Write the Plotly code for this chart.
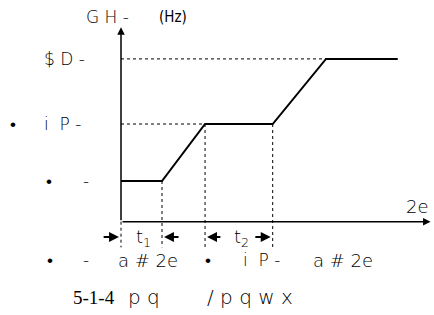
import plotly.graph_objects as go

# ---- data ----
times = [0, 1.0, 2.05, 3.7, 5.0, 6.75]          # breakpoints of the speed curve
freqs = [10, 10, 24, 24, 40, 40]                # frequency levels (Hz)
level_high = 40
level_mid = 24
t1_span = [0.0, 1.0]
t2_span = [2.05, 3.7]

W, H = 434, 315
X0, KX = 121, 41.0        # pixel of t=0, px per unit
Y0, KY = 221.7, 4.07      # pixel of f=0, px per unit

fig = go.Figure()

blk = "black"
dash = "3px,3px"

# main curve
fig.add_trace(go.Scatter(x=times, y=freqs, mode="lines",
                         line=dict(color=blk, width=2), hoverinfo="skip"))

# dashed guides
shapes = []
shapes.append(dict(type="line", x0=0, x1=times[4], y0=level_high, y1=level_high,
                   line=dict(color=blk, width=1, dash=dash)))
shapes.append(dict(type="line", x0=0, x1=times[2], y0=level_mid, y1=level_mid,
                   line=dict(color=blk, width=1, dash=dash)))
ybot = -6.3
shapes.append(dict(type="line", x0=0, x1=0, y0=0, y1=ybot, line=dict(color=blk, width=1, dash=dash)))
shapes.append(dict(type="line", x0=times[1], x1=times[1], y0=freqs[1], y1=ybot, line=dict(color=blk, width=1, dash=dash)))
shapes.append(dict(type="line", x0=times[2], x1=times[2], y0=freqs[2], y1=ybot, line=dict(color=blk, width=1, dash=dash)))
shapes.append(dict(type="line", x0=times[3], x1=times[3], y0=freqs[3], y1=ybot, line=dict(color=blk, width=1, dash=dash)))

anns = []
# axes as arrows
def arrow(x, y, axv, ayv, w=1.5, size=1.0):
    anns.append(dict(x=x, y=y, ax=axv, ay=ayv, xref="x", yref="y", axref="x", ayref="y",
                     showarrow=True, arrowhead=2, arrowsize=size, arrowwidth=w,
                     arrowcolor=blk, text=""))

arrow(0, 47.8, 0, 0)                 # y axis
arrow(7.55, 0, 0, 0)                 # x axis
yarr = -3.76
arrow(t1_span[0] - 0.05, yarr, t1_span[0] - 0.46, yarr, w=1.8, size=1.1)
arrow(t1_span[1] + 0.05, yarr, t1_span[1] + 0.44, yarr, w=1.8, size=1.1)
arrow(t2_span[0] + 0.05, yarr, t2_span[0] + 0.41, yarr, w=1.8, size=1.1)
arrow(t2_span[1] - 0.05, yarr, t2_span[1] - 0.46, yarr, w=1.8, size=1.1)

sans = "DejaVu Sans, Verdana, sans-serif"
serif = "Liberation Serif, Times New Roman, serif"

def txt(x, y, s, size=17, fam=sans, anchor="left", weight=200):
    anns.append(dict(x=x / W, y=1 - y / H, xref="paper", yref="paper", text=s,
                     showarrow=False, xanchor=anchor, yanchor="middle",
                     font=dict(family=fam, size=size, color=blk, weight=weight)))

txt(84, 17, "G H -")
txt(157, 17, "(Hz)", 15, fam="DejaVu Sans Condensed, Liberation Sans Narrow, sans-serif", weight="normal")
txt(42, 59, "$ D -")
txt(8, 124, "•")
txt(42, 124, "i  P -")
txt(44, 181, "•")
txt(81, 181, "-")
txt(404, 206, "2e", 18)
txt(134, 238, "t<sub>1</sub>", 18)
txt(232, 238, "t<sub>2</sub>", 18)
txt(45, 260, "•")
txt(81, 260, "-")
txt(116, 260, "a # 2e", 18)
txt(203, 260, "•")
txt(241, 260, "i  P -")
txt(311, 260, "a # 2e", 18)
txt(71, 297, "5-1-4", 19, fam=serif, weight="normal")
txt(126, 297, "p q", 20)
txt(205, 297, "/ p q w x", 20)

fig.update_layout(
    width=W, height=H, autosize=False,
    margin=dict(l=0, r=0, t=0, b=0),
    paper_bgcolor="white", plot_bgcolor="white",
    showlegend=False,
    xaxis=dict(range=[(0 - X0) / KX, (W - X0) / KX], visible=False, fixedrange=True),
    yaxis=dict(range=[(Y0 - H) / KY, Y0 / KY], visible=False, fixedrange=True),
    shapes=shapes, annotations=anns,
)

fig.write_html("out.html", config={"displayModeBar": False},
               post_script="document.body.style.margin='0px';")
